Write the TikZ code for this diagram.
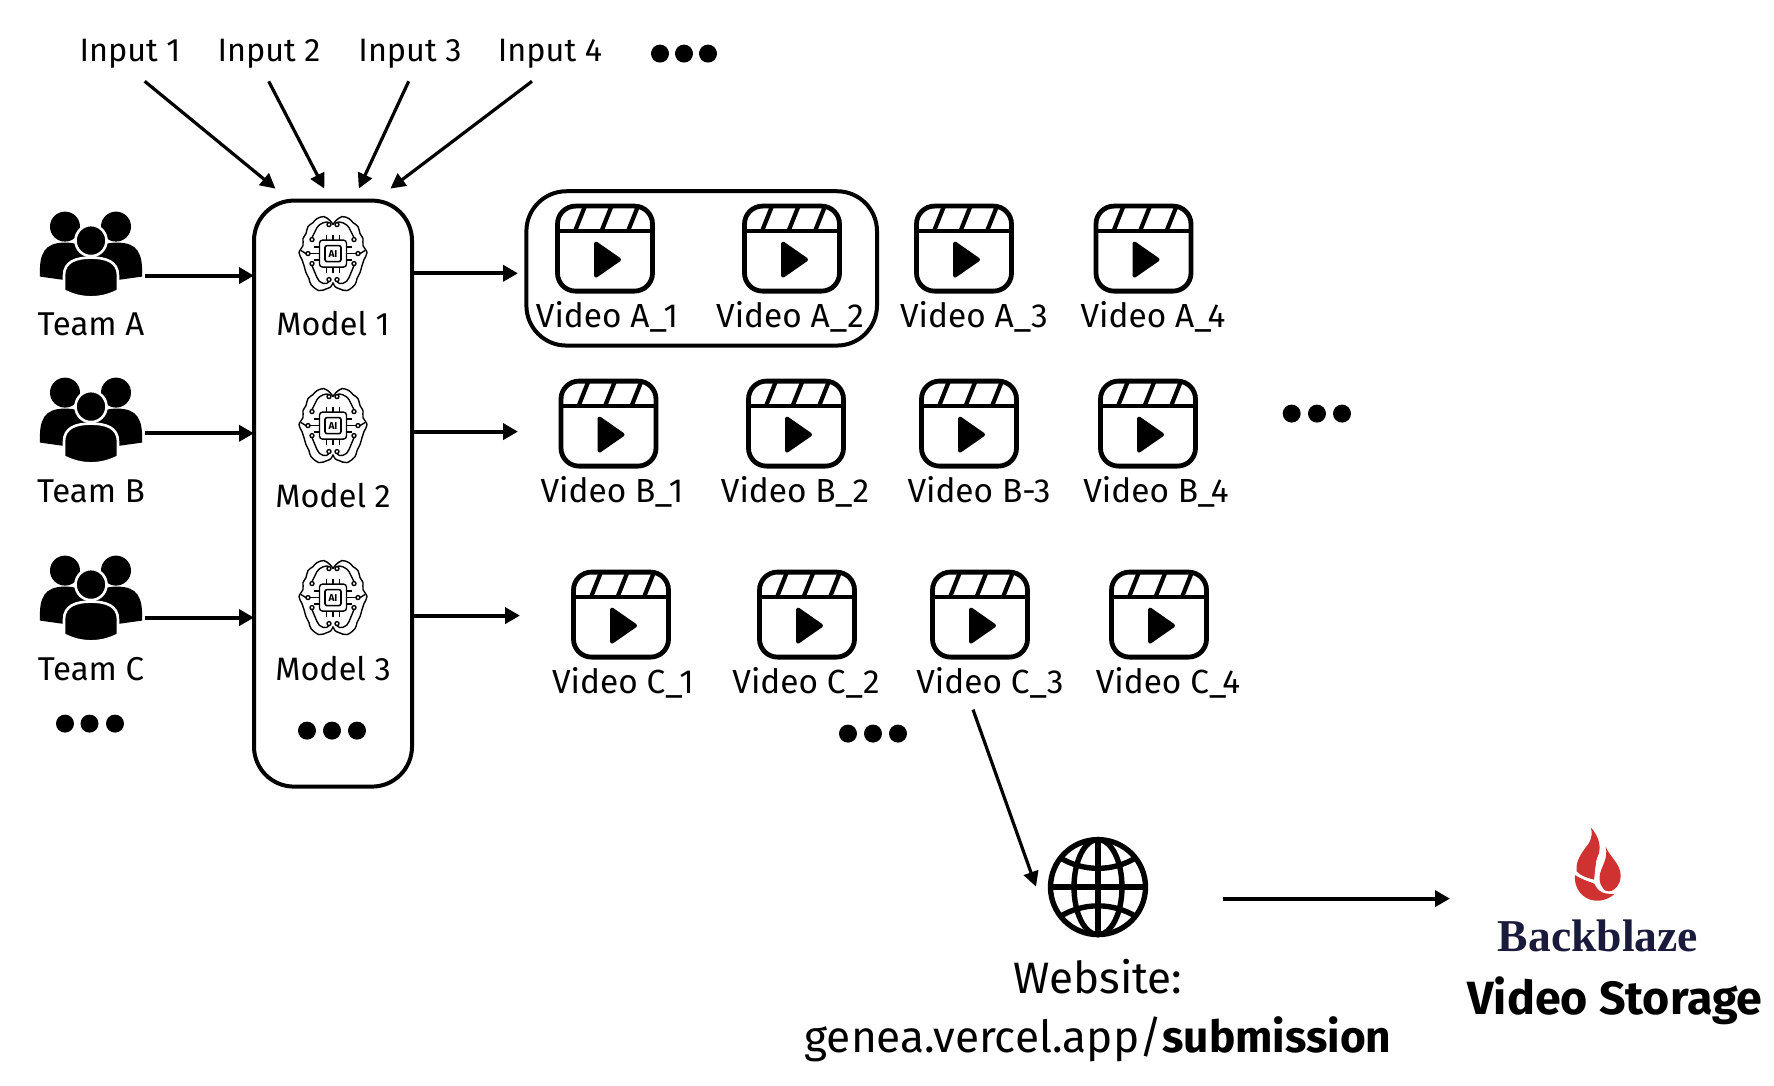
\documentclass[tikz,border=0pt]{standalone}
\usepackage{fontspec}
\setmainfont{Fira Sans}
\newfontfamily\bbfont{Liberation Serif}
\usetikzlibrary{arrows.meta}
\definecolor{bbred}{HTML}{CF3230}
\definecolor{bbnavy}{HTML}{1A1B3C}
\tikzset{
  lbl/.style={inner sep=0pt,outer sep=0pt,anchor=base,font=\fontsize{16.2}{18}\selectfont},
  vidlbl/.style={lbl,font=\fontsize{16.7}{18}\selectfont},
  teamlbl/.style={lbl,font=\fontsize{16.5}{18}\selectfont},
  ghost/.style={inner sep=0pt,outer sep=0pt,minimum width=#1,minimum height=#1},
  arr/.style={line width=1.9pt,-{Triangle[length=7.5pt,width=8pt]}},
  thinarr/.style={line width=1.6pt,-{Triangle[length=7.5pt,width=7.5pt]}},
  groupbox/.style={draw,line width=2pt,rounded corners=20pt,inner sep=0pt,outer sep=0pt},
  clapper/.pic={
    \draw[line width=2.4pt,rounded corners=9pt] (-47.5,-42.5) rectangle (47.5,42.5);
    \draw[line width=2.3pt] (-47.5,-17.5) -- (47.5,-17.5);
    \draw[line width=2.1pt] (-30,-17.5) -- (-20,-42.5) (-3.5,-17.5) -- (6.5,-42.5) (23,-17.5) -- (33,-42.5);
    \fill[draw,line width=2pt,line join=round] (-9,-5) -- (14,11) -- (-9,27) -- cycle;
  },
  people/.pic={
    \fill (-26,-27) circle[radius=15];
    \fill (25,-27) circle[radius=15];
    \fill (-51,23) .. controls (-52,0) and (-47,-11) .. (-26,-11) .. controls (-10,-11) and (-2,-6) .. (0,10) -- (-8,29) -- cycle;
    \fill (51,23) .. controls (52,0) and (47,-11) .. (26,-11) .. controls (10,-11) and (2,-6) .. (0,10) -- (8,29) -- cycle;
    \fill[draw=white,line width=1.3pt] (0,-13) circle[radius=15.5];
    \fill[draw=white,line width=1.3pt] (-27,37) -- (-27,22) .. controls (-27,8) and (-15,4) .. (0,4) .. controls (15,4) and (27,8) .. (27,22) -- (27,37) .. controls (10,46) and (-10,46) .. cycle;
  },
  brain/.pic={
    \begin{scope}[line width=.7pt,line join=round]
    \draw plot[smooth,tension=.6] coordinates {(0,-29) (3,-33) (9,-37) (16,-35) (20,-31) (25,-27) (27,-20) (30,-15) (30,-8) (34,-1) (31,6) (29,12) (27,19) (24,25) (22,31) (14,37) (6,35) (2,33) (0,29)};
    \draw plot[smooth,tension=.6] coordinates {(0,-29) (-3,-33) (-9,-37) (-16,-35) (-20,-31) (-25,-27) (-27,-20) (-30,-15) (-30,-8) (-34,-1) (-31,6) (-29,12) (-27,19) (-24,25) (-22,31) (-14,37) (-6,35) (-2,33) (0,29)};
    \foreach \s in {1,-1}{
      \draw (\s*4,-29) circle[radius=2] (\s*21,-14) circle[radius=2] (\s*25,0) circle[radius=2] (\s*21,10) circle[radius=2] (\s*4,26) circle[radius=2];
      \draw (\s*4,-31) .. controls (\s*6,-33) and (\s*14,-30) .. (\s*16,-26) -- (\s*21,-16);
      \draw (\s*4,28) .. controls (\s*6,32) and (\s*14,30) .. (\s*16,24) -- (\s*21,12);
      \draw (\s*27,0) -- (\s*32,-3);
      \draw (\s*23,0) -- (\s*13.5,0) (\s*19,-6.5) -- (\s*13.5,-6.5) (\s*19,6.5) -- (\s*13.5,6.5);
      \draw (\s*6.5,-19) -- (\s*6.5,-13.5) (\s*6.5,19) -- (\s*6.5,13.5);
    }
    \draw (0,-19) -- (0,-13.5) (0,19) -- (0,13.5);
    \draw[rounded corners=1.5pt] (-13.5,-13.5) rectangle (13.5,13.5);
    \draw[rounded corners=1pt,line width=.8pt] (-8,-8) rectangle (8,8);
    \end{scope}
    \node[inner sep=0pt,font=\bfseries\fontsize{5}{6}\selectfont] (-ai) at (0,0) {AI};
  },
  globe/.pic={
    \begin{scope}[line width=2.7pt]
    \draw (0,0) circle[radius=47.5];
    \draw (0,0) ellipse[x radius=24,y radius=47.5];
    \draw (0,-47.5) -- (0,47.5) (-47.5,0) -- (47.5,0);
    \draw (-39,-30) .. controls (-15,-15) and (15,-15) .. (39,-30);
    \draw (-39,30) .. controls (-15,15) and (15,15) .. (39,30);
    \end{scope}
  },
  flame/.pic={
    \begin{scope}[x=.1667pt,y=-.1667pt,fill=bbred]
    \fill (92,20) .. controls (120,50) and (125,85) .. (112,110) .. controls (105,130) and (108,160) .. (105,178) .. controls (80,172) and (60,165) .. (50,152) .. controls (45,120) and (70,90) .. (85,70) .. controls (97,50) and (97,35) .. cycle;
    \fill (137,78) .. controls (150,110) and (182,130) .. (182,165) .. controls (182,195) and (160,212) .. (143,215) .. controls (125,205) and (115,185) .. (120,160) .. controls (125,135) and (145,115) .. cycle;
    \fill (45,162) .. controls (70,180) and (95,185) .. (105,190) .. controls (115,210) and (125,222) .. (170,214) .. controls (150,235) and (125,242) .. (105,240) .. controls (70,237) and (40,205) .. cycle;
    \draw[white,line width=1.2pt] (38,155) .. controls (65,172) and (90,178) .. (105,184) .. controls (110,150) and (108,125) .. (122,100);
    \draw[white,line width=1.2pt] (105,184) .. controls (115,208) and (130,222) .. (178,214);
    \end{scope}
  },
}
\begin{document}
\begin{tikzpicture}[x=.5pt,y=-.5pt]
\useasboundingbox (0,0) rectangle (1774,1086);
\begin{scope}[yshift=-.3pt]

% inputs
\node[lbl] (in1) at (130,61) {Input 1};
\node[lbl] (in2) at (269,61) {Input 2};
\node[lbl] (in3) at (410,61) {Input 3};
\node[lbl] (in4) at (550,61) {Input 4};
\foreach \x in {660,684,708} \fill (\x,53) circle[radius=9];

% models column
\node[groupbox,minimum width=79pt,minimum height=293pt] (models) at (333,493) {};
\foreach \n/\y/\t/\b in {m1/253/Model 1/335,m2/425/Model 2/507,m3/597/Model 3/680}{
  \node[ghost=34pt] (\n) at (333,\y) {};
  \pic (\n) at (\n) {brain};
  \node[lbl] (\n l) at (333,\b) {\t};
}
\foreach \x in {307,332,357} \fill (\x,730) circle[radius=9];

% teams
\foreach \n/\y/\t/\b in {ta/253/Team A/335,tb/419/Team B/502,tc/597/Team C/680}{
  \node[inner sep=0pt,outer sep=0pt,minimum width=54pt,minimum height=42pt] (\n) at (91,\y) {};
  \pic at (\n) {people};
  \node[teamlbl] (\n l) at (91,\b) {\t};
}
\foreach \x in {65,89.5,115} \fill (\x,723) circle[radius=9];

% videos
\node[groupbox,minimum width=175.3pt,minimum height=77.15pt] (grpA) at (701.7,267.8) {};
\foreach \n/\x/\y/\lx/\b/\t in {
  a1/605/248/607/327/Video A\_1, a2/792/248/790/327/Video A\_2, a3/964/248/974/327/Video A\_3, a4/1143.5/248/1153/327/Video A\_4,
  b1/608.5/423/612/502/Video B\_1, b2/796/423/795/502/Video B\_2, b3/969/423/979/502/Video B-3, b4/1148/423/1156/502/Video B\_4,
  c1/621/614/623/693/Video C\_1, c2/807/614/806/693/Video C\_2, c3/980/614/990/693/Video C\_3, c4/1159/614/1168/693/Video C\_4}{
  \node[inner sep=0pt,outer sep=0pt,minimum width=50pt,minimum height=45pt] (\n) at (\x,\y) {};
  \pic at (\n) {clapper};
  \node[vidlbl] (\n l) at (\lx,\b) {\t};
}
\foreach \x in {1291.7,1317,1342} \fill (\x,413) circle[radius=9];
\foreach \x in {848,873,898} \fill (\x,733) circle[radius=9];

% website and storage
\node[ghost=50pt] (web) at (1098,886.5) {};
\pic at (web) {globe};
\node[lbl,font=\fontsize{22}{25}\selectfont] (webl) at (1098,993) {Website:};
\node[lbl,font=\fontsize{22.1}{25}\selectfont] (webu) at (1098,1052) {genea.vercel.app/\textbf{submission}};
\coordinate (flameo) at (1560,820);
\pic at (flameo) {flame};
\node[lbl,font=\bbfont\bfseries\fontsize{22.8}{26}\selectfont,text=bbnavy] (bb) at (1598,951) {Backblaze};
\node[lbl,font=\bfseries\fontsize{23.3}{26}\selectfont] (store) at (1615,1014) {Video Storage};

% connector ends
\coordinate (s1) at (144.7,80.7); \coordinate (e1) at (275.5,188);
\coordinate (s2) at (268.7,80.7); \coordinate (e2) at (324.3,188);
\coordinate (s3) at (408.7,80.7); \coordinate (e3) at (358.8,188);
\coordinate (s4) at (532,80.7);   \coordinate (e4) at (390.4,188);
\coordinate (rta) at (0,275); \coordinate (rtb) at (0,432.7); \coordinate (rtc) at (0,617);
\coordinate (rma) at (518,272.7); \coordinate (rmb) at (518,431); \coordinate (rmc) at (520,615);
\coordinate (c3o) at (973,709); \coordinate (webin) at (1036,886);
\coordinate (webo) at (1223,898); \coordinate (stin) at (1450,898);

\foreach \i in {1,2,3,4} \draw[thinarr] (s\i) -- (e\i);
\draw[arr] (ta.east |- rta) -- (models.west |- rta);
\draw[arr] (tb.east |- rtb) -- (models.west |- rtb);
\draw[arr] (tc.east |- rtc) -- (models.west |- rtc);
\draw[arr] (models.east |- rma) -- (rma);
\draw[arr] (models.east |- rmb) -- (rmb);
\draw[arr] (models.east |- rmc) -- (rmc);
\draw[thinarr] (c3o) -- (webin);
\draw[arr] (webo) -- (stin);
\end{scope}
\end{tikzpicture}
\end{document}
